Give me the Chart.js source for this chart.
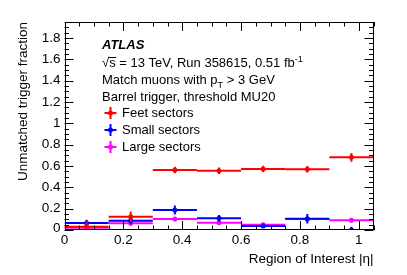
<!DOCTYPE html>
<html>
<head>
<meta charset="utf-8">
<script src="https://cdn.jsdelivr.net/npm/chart.js@4.4.1/dist/chart.umd.min.js"></script>
<style>
  html, body { margin: 0; padding: 0; background: #fff; }
  #wrap { width: 407px; height: 275px; }
</style>
</head>
<body>
<div id="wrap"><canvas id="c" width="407" height="275"></canvas></div>
<script>
// bins in |eta|
const binEdges = [0, 0.15, 0.3, 0.45, 0.6, 0.75, 0.9, 1.05];
// unmatched trigger fraction per bin, with errors
const feetVals  = [0.030, 0.125, 0.562, 0.556, 0.572, 0.569, 0.681];
const feetErrs  = [0.055, 0.045, 0.030, 0.030, 0.030, 0.030, 0.042];
const smallVals = [0.065, 0.087, 0.187, 0.110, 0.037, 0.106, 0.000];
const smallErrs = [0.030, 0.030, 0.042, 0.030, 0.015, 0.045, 0.030];
const largeVals = [0.020, 0.063, 0.103, 0.069, 0.050, 0.103, 0.091];
const largeErrs = [0.020, 0.025, 0.020, 0.020, 0.015, 0.020, 0.020];
const seriesNames = ['Feet sectors', 'Small sectors', 'Large sectors'];

const xTicks = [0, 0.2, 0.4, 0.6, 0.8, 1];
const xTickLabels = ['0', '0.2', '0.4', '0.6', '0.8', '1'];
const yTicks = [0, 0.2, 0.4, 0.6, 0.8, 1, 1.2, 1.4, 1.6, 1.8];
const yTickLabels = ['0', '0.2', '0.4', '0.6', '0.8', '1', '1.2', '1.4', '1.6', '1.8'];

const FONT = '"Liberation Sans", Arial, Helvetica, sans-serif';

function points(vals, errs) {
  return vals.map((v, i) => ({
    x: (binEdges[i] + binEdges[i + 1]) / 2,
    y: v,
    xl: binEdges[i],
    xh: binEdges[i + 1],
    e: errs[i],
  }));
}

// error bars, drawn just before each dataset's markers
const errorBars = {
  id: 'errorBars',
  beforeDatasetDraw(chart, args) {
    const ds = chart.data.datasets[args.index];
    const { ctx, chartArea: a } = chart;
    const xs = chart.scales.x, ys = chart.scales.y;
    ctx.save();
    ctx.beginPath();
    ctx.rect(a.left, a.top, a.right - a.left, a.bottom - a.top);
    ctx.clip();
    ctx.strokeStyle = ds.borderColor;
    ctx.lineWidth = 2;
    ds.data.forEach(p => {
      const py = ys.getPixelForValue(p.y);
      const px = xs.getPixelForValue(p.x);
      ctx.beginPath();
      ctx.moveTo(xs.getPixelForValue(p.xl), py);
      ctx.lineTo(xs.getPixelForValue(p.xh), py);
      ctx.moveTo(px, ys.getPixelForValue(p.y - p.e));
      ctx.lineTo(px, ys.getPixelForValue(p.y + p.e));
      ctx.stroke();
    });
    ctx.restore();
  }
};

// draw text made of pieces: [text, scale, dy]
function rich(ctx, x, y, size, parts) {
  let cx = x;
  parts.forEach(([t, s, dy]) => {
    ctx.font = (size * s) + 'px ' + FONT;
    ctx.fillText(t, cx, y + dy);
    cx += ctx.measureText(t).width;
  });
  return cx;
}

// frame, ROOT-style inner ticks, labels and legend
const frame = {
  id: 'frame',
  afterDraw(chart) {
    const { ctx, chartArea: a } = chart;
    const xs = chart.scales.x, ys = chart.scales.y;
    ctx.save();
    ctx.strokeStyle = '#000';
    ctx.fillStyle = '#000';
    ctx.lineWidth = 1;
    ctx.strokeRect(Math.round(a.left) + 0.5, Math.round(a.top) + 0.5,
      Math.round(a.right - a.left) - 1, Math.round(a.bottom - a.top) - 1);

    ctx.beginPath();
    for (let v = 0; v <= 1.05001; v += 0.05) {
      const major = xTicks.some(t => Math.abs(t - v) < 1e-6);
      const len = major ? 9 : 4.5;
      const px = Math.round(xs.getPixelForValue(v)) + 0.5;
      ctx.moveTo(px, a.bottom); ctx.lineTo(px, a.bottom - len);
      ctx.moveTo(px, a.top); ctx.lineTo(px, a.top + len);
    }
    for (let v = 0; v <= 1.95001; v += 0.05) {
      const major = yTicks.some(t => Math.abs(t - v) < 1e-6);
      const len = major ? 9 : 4.5;
      const py = Math.round(ys.getPixelForValue(v)) + 0.5;
      ctx.moveTo(a.left, py); ctx.lineTo(a.left + len, py);
      ctx.moveTo(a.right, py); ctx.lineTo(a.right - len, py);
    }
    ctx.stroke();

    ctx.font = '13.5px ' + FONT;
    ctx.textAlign = 'right';
    ctx.textBaseline = 'middle';
    yTicks.forEach((v, i) => {
      ctx.fillText(yTickLabels[i], a.left - 4, ys.getPixelForValue(v) - (i === 0 ? 2 : 0));
    });
    ctx.textAlign = 'center';
    ctx.textBaseline = 'top';
    xTicks.forEach((v, i) => {
      ctx.fillText(xTickLabels[i], xs.getPixelForValue(v), a.bottom + 4);
    });

    // axis titles
    ctx.textAlign = 'right';
    ctx.textBaseline = 'alphabetic';
    ctx.fillText('Region of Interest |\u03b7|', a.right, 263);
    ctx.save();
    ctx.translate(27, a.top);
    ctx.rotate(-Math.PI / 2);
    ctx.fillText('Unmatched trigger fraction', 0, 0);
    ctx.restore();

    // ATLAS label
    ctx.textAlign = 'left';
    ctx.font = 'italic bold 13px ' + FONT;
    ctx.fillText('ATLAS', 102, 49);
    const sz = 13;
    const x0 = 102;
    let ex = rich(ctx, x0, 67, sz, [['\u221a', 1, 0]]);
    ctx.beginPath();
    ctx.moveTo(ex - 1, 57.5); ctx.lineTo(ex + 7, 57.5); ctx.stroke();
    ex = rich(ctx, ex, 67, sz, [['s = 13 TeV, Run 358615, 0.51 fb', 1, 0], ['-1', 0.7, -5]]);
    rich(ctx, x0, 84, sz, [['Match muons with p', 1, 0], ['T', 0.7, 4], [' > 3 GeV', 1, 0]]);
    rich(ctx, x0, 101, sz, [['Barrel trigger, threshold MU20', 1, 0]]);

    // legend
    chart.data.datasets.forEach((ds, i) => {
      const cy = 113 + i * 17;
      const cx = 110.5;
      ctx.strokeStyle = ds.borderColor;
      ctx.fillStyle = ds.borderColor;
      ctx.lineWidth = 2;
      ctx.beginPath();
      ctx.moveTo(cx - 6, cy); ctx.lineTo(cx + 6, cy);
      ctx.moveTo(cx, cy - 6); ctx.lineTo(cx, cy + 6);
      ctx.stroke();
      ctx.beginPath();
      ctx.arc(cx, cy, 2.5, 0, Math.PI * 2);
      ctx.fill();
      ctx.fillStyle = '#000';
      ctx.font = sz + 'px ' + FONT;
      ctx.textBaseline = 'middle';
      ctx.fillText(ds.label, 122, cy + 0.5);
      ctx.textBaseline = 'alphabetic';
    });
    ctx.restore();
  }
};

function dataset(label, color, vals, errs) {
  return {
    label,
    data: points(vals, errs),
    borderColor: color,
    backgroundColor: color,
    pointRadius: 2.5,
    pointBorderWidth: 0,
    pointHoverRadius: 2.5,
    showLine: false,
  };
}

new Chart(document.getElementById('c'), {
  type: 'scatter',
  data: {
    datasets: [
      dataset(seriesNames[0], '#ff0000', feetVals, feetErrs),
      dataset(seriesNames[1], '#0000ff', smallVals, smallErrs),
      dataset(seriesNames[2], '#ff00ff', largeVals, largeErrs),
    ]
  },
  options: {
    responsive: false,
    animation: false,
    devicePixelRatio: 1,
    layout: { padding: { left: 64.5, right: 33.5, top: 22, bottom: 45 } },
    plugins: { legend: { display: false }, tooltip: { enabled: false } },
    scales: {
      x: { type: 'linear', min: 0, max: 1.05, display: false },
      y: { type: 'linear', min: 0, max: 1.95, display: false },
    },
  },
  plugins: [errorBars, frame],
});
</script>
</body>
</html>
